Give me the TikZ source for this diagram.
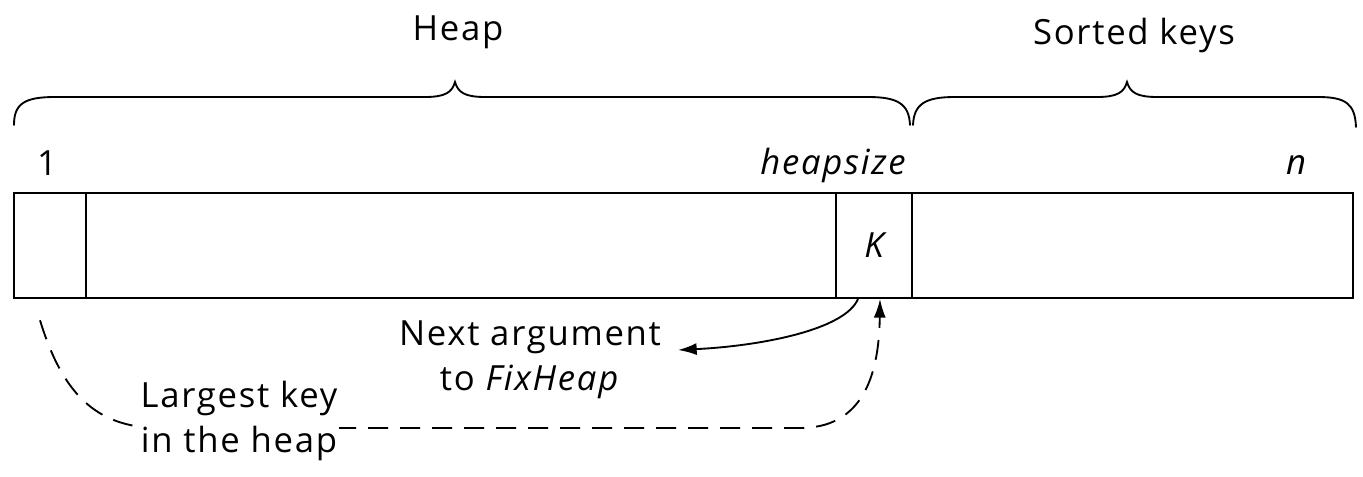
\documentclass[tikz,border=0pt]{standalone}
\usepackage{fontspec}
\setmainfont{Open Sans}[LetterSpace=5]
\usetikzlibrary{arrows.meta}
\begin{document}
\begin{tikzpicture}[x=0.75pt,y=-0.75pt,
  line width=1.4pt,
  cell/.style={draw, minimum height=78.75pt, inner sep=0pt, line width=1.4pt},
  lbl/.style={font=\fontsize{26}{34}\selectfont, inner sep=1pt},
  ilbl/.style={font=\fontsize{26}{34}\selectfont\itshape, inner sep=1pt},
  bracepath/.style={line width=1.4pt, line cap=round},
  arr/.style={-{Latex[length=14pt,width=9pt]}, line width=1.4pt},
  dasharr/.style={arr, dash pattern=on 15pt off 9pt}]
\useasboundingbox (0,0) rectangle (1363,477);
% array cells
\node[cell, minimum width=54pt] (c1) at (50,245.5) {};
\node[cell, minimum width=562.5pt] (c2) at (461,245.5) {};
\node[cell, minimum width=57pt, font=\fontsize{26}{34}\selectfont\itshape] (cK) at (874,245.5) {K};
\node[cell, minimum width=330.75pt] (c4) at (1132.5,245.5) {};
% braces
\draw[bracepath] (14,125) .. controls (14,104) and (24,97) .. (55,97) -- (425,97)
  .. controls (446,97) and (452,92) .. (455,82)
  .. controls (458,92) and (464,97) .. (485,97) -- (868,97)
  .. controls (898,97) and (909,104) .. (910,125);
\draw[bracepath] (913,125) .. controls (914,104) and (925,97) .. (955,97) -- (1097,97)
  .. controls (1118,97) and (1124,92) .. (1127,82)
  .. controls (1130,92) and (1136,97) .. (1157,97) -- (1318,97)
  .. controls (1346,97) and (1355,104) .. (1356,127);
% labels
\node[lbl] (heap) at (458,32) {Heap};
\node[lbl] (sorted) at (1134,35) {Sorted keys};
\node[lbl] (one) at (47,163) {1};
\node[ilbl, anchor=east] (hs) at (908,165) {heapsize};
\node[ilbl] (n) at (1296,165) {n};
\node[lbl, align=center] (next) at (530,360) {Next argument\\to \textit{FixHeap}};
% connectors
\coordinate (nexttip) at (678,350);
\draw[arr] ([xshift=-12pt]cK.south) .. controls (845,330) and (760,346) .. (nexttip);
\draw[dasharr] ([xshift=-7.5pt,yshift=-16pt]c1.south) .. controls (62,392) and (95,428) .. (160,428)
  -- (800,428) .. controls (860,428) and (879,380) .. ([xshift=4.5pt]cK.south);
\node[lbl, align=center, fill=white] (largest) at (239,421) {Largest key\\in the heap};
\end{tikzpicture}
\end{document}
